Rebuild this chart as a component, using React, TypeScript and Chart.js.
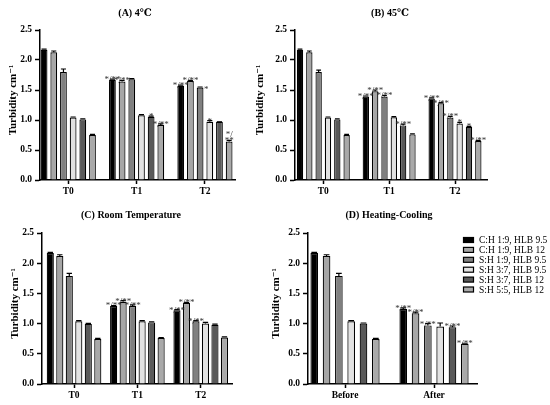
import React, { useEffect, useRef } from "react";
import { Chart, registerables } from "chart.js";

Chart.register(...registerables);

// ---------- data ----------
const seriesLabels = [
  "C:H 1:9, HLB 9.5",
  "C:H 1:9, HLB 12",
  "S:H 1:9, HLB 9.5",
  "S:H 3:7, HLB 9.5",
  "S:H 3:7, HLB 12",
  "S:H 5:5, HLB 12",
];
const seriesColors = ["#000000", "#a6a6a6", "#808080", "#e2e2e2", "#595959", "#a9a9a9"];

const timeCategories = ["T0", "T1", "T2"];
const hcCategories = ["Before", "After"];
const yAxisTitle = "Turbidity cm⁻¹";

// values[series][category]
const valuesA = [
  [2.17, 1.67, 1.57],
  [2.13, 1.64, 1.65],
  [1.8, 1.68, 1.54],
  [1.04, 1.08, 0.97],
  [1.01, 1.055, 0.97],
  [0.75, 0.915, 0.64],
];
const errorsA = [
  [0.01, 0.01, 0.01],
  [0.02, 0.02, 0.01],
  [0.05, 0.01, 0.01],
  [0.01, 0.01, 0.02],
  [0.01, 0.01, 0.0],
  [0.01, 0.02, 0.02],
];
const notesA = [
  ["", "*/**", "*/**"],
  ["", "*/**", "*/**"],
  ["", "", ">*"],
  ["", "", "*"],
  ["", "*", ""],
  ["", "*/**", "*/\n**"],
];

const valuesB = [
  [2.17, 1.39, 1.36],
  [2.13, 1.48, 1.28],
  [1.8, 1.39, 1.04],
  [1.04, 1.045, 0.94],
  [1.01, 0.91, 0.885],
  [0.75, 0.76, 0.65],
];
const errorsB = [
  [0.01, 0.01, 0.01],
  [0.02, 0.02, 0.01],
  [0.03, 0.02, 0.02],
  [0.01, 0.01, 0.02],
  [0.01, 0.02, 0.01],
  [0.01, 0.01, 0.01],
];
const notesB = [
  ["", "*/**", "*/**"],
  ["", "*/**", "*/**"],
  ["", "*/**", "*/**"],
  ["", "", "*"],
  ["", "*/**", "*"],
  ["", "", "*/**"],
];

const valuesC = [
  [2.17, 1.29, 1.22],
  [2.12, 1.36, 1.34],
  [1.79, 1.29, 1.04],
  [1.04, 1.04, 1.0],
  [0.995, 1.02, 0.98],
  [0.745, 0.76, 0.77],
];
const errorsC = [
  [0.01, 0.01, 0.01],
  [0.02, 0.02, 0.01],
  [0.04, 0.02, 0.01],
  [0.01, 0.01, 0.02],
  [0.01, 0.01, 0.01],
  [0.01, 0.01, 0.01],
];
const notesC = [
  ["", "*/**", "*/**"],
  ["", "*/**", "*/**"],
  ["", "*/**", "*/**"],
  ["", "", ""],
  ["", "", ""],
  ["", "", ""],
];

const valuesD = [
  [2.17, 1.24],
  [2.12, 1.17],
  [1.79, 0.97],
  [1.04, 0.95],
  [1.0, 0.94],
  [0.745, 0.665],
];
const errorsD = [
  [0.01, 0.02],
  [0.02, 0.02],
  [0.04, 0.03],
  [0.01, 0.06],
  [0.01, 0.02],
  [0.01, 0.01],
];
const notesD = [
  ["", "*/**"],
  ["", "*/**"],
  ["", "*/**"],
  ["", ""],
  ["", "*/**"],
  ["", "*/**"],
];

// ---------- layout ----------
type Panel = {
  title: string;
  categories: string[];
  values: number[][];
  errors: number[][];
  notes: string[][];
  box: { x: number; y: number; w: number; h: number };
  area: { left: number; right: number; top: number; bottom: number };
  xMin: number;
  xMax: number;
  catPct: number;
  barPct: number;
  titleX: number;
  titleY: number;
  yTitleX: number;
  legend?: { x: number; y: number };
};

const panels: Panel[] = [
  {
    title: "(A) 4℃",
    categories: timeCategories,
    values: valuesA,
    errors: errorsA,
    notes: notesA,
    box: { x: 0, y: 0, w: 275, h: 200 },
    area: { left: 40, right: 235, top: 30, bottom: 180 },
    xMin: -0.414,
    xMax: 2.44,
    catPct: 0.85,
    barPct: 0.7,
    titleX: 135,
    titleY: 13,
    yTitleX: 13,
  },
  {
    title: "(B) 45℃",
    categories: timeCategories,
    values: valuesB,
    errors: errorsB,
    notes: notesB,
    box: { x: 245, y: 0, w: 305, h: 200 },
    area: { left: 50, right: 242, top: 30, bottom: 180 },
    xMin: -0.43,
    xMax: 2.486,
    catPct: 0.85,
    barPct: 0.68,
    titleX: 145,
    titleY: 13,
    yTitleX: 15,
  },
  {
    title: "(C) Room Temperature",
    categories: timeCategories,
    values: valuesC,
    errors: errorsC,
    notes: notesC,
    box: { x: 0, y: 200, w: 275, h: 205 },
    area: { left: 42, right: 232, top: 33, bottom: 184 },
    xMin: -0.506,
    xMax: 2.494,
    catPct: 0.9,
    barPct: 0.75,
    titleX: 131,
    titleY: 15,
    yTitleX: 15,
  },
  {
    title: "(D) Heating-Cooling",
    categories: hcCategories,
    values: valuesD,
    errors: errorsD,
    notes: notesD,
    box: { x: 250, y: 200, w: 300, h: 205 },
    area: { left: 58, right: 227, top: 33, bottom: 184 },
    xMin: -0.416,
    xMax: 1.483,
    catPct: 0.83,
    barPct: 0.62,
    titleX: 139,
    titleY: 15,
    yTitleX: 26,
    legend: { x: 213, y: 40 },
  },
];

const FONT = "'Liberation Serif', 'DejaVu Serif', serif";

function makeOverlay(p: Panel) {
  return {
    id: "overlay",
    afterDatasetsDraw(chart: any) {
      const ctx = chart.ctx as CanvasRenderingContext2D;
      const ys = chart.scales.y;
      ctx.save();
      chart.data.datasets.forEach((_ds: any, di: number) => {
        const meta = chart.getDatasetMeta(di);
        meta.data.forEach((el: any, ci: number) => {
          const v = p.values[di][ci];
          const e = p.errors[di][ci];
          const base = ys.getPixelForValue(v);
          const top = ys.getPixelForValue(v + e);
          const cap = el.width * 0.75;
          ctx.strokeStyle = "#000";
          ctx.lineWidth = 1.2;
          ctx.beginPath();
          ctx.moveTo(el.x, base);
          ctx.lineTo(el.x, top);
          ctx.moveTo(el.x - cap / 2, top);
          ctx.lineTo(el.x + cap / 2, top);
          ctx.stroke();
          const note = p.notes[di][ci];
          if (note) {
            ctx.fillStyle = "#333";
            ctx.font = `9px ${FONT}`;
            ctx.textBaseline = "alphabetic";
            if (note.startsWith(">")) {
              ctx.textAlign = "left";
              ctx.fillText(note.slice(1), el.x + el.width / 2 + 0.5, top + 4.5);
            } else {
              ctx.textAlign = "center";
              const lines = note.split("\n");
              const n = lines.length;
              lines.forEach((ln, k) => {
                ctx.fillText(ln, el.x, top + 3 - (n - 1 - k) * 6.5);
              });
            }
          }
        });
      });
      ctx.restore();
    },
    afterDraw(chart: any) {
      const ctx = chart.ctx as CanvasRenderingContext2D;
      const ca = chart.chartArea;
      ctx.save();
      ctx.fillStyle = "#000";
      ctx.font = `bold 10px ${FONT}`;
      ctx.textAlign = "center";
      ctx.textBaseline = "middle";
      ctx.fillText(p.title, p.titleX, p.titleY);

      ctx.save();
      ctx.translate(p.yTitleX, (ca.top + ca.bottom) / 2 - 5);
      ctx.rotate(-Math.PI / 2);
      ctx.font = `bold 11px ${FONT}`;
      ctx.fillText(yAxisTitle, 0, 0);
      ctx.restore();

      if (p.legend) {
        const { x, y } = p.legend;
        ctx.font = `9.5px ${FONT}`;
        ctx.textAlign = "left";
        ctx.textBaseline = "middle";
        seriesLabels.forEach((lab, i) => {
          const cy = y + i * 9.9;
          ctx.fillStyle = seriesColors[i];
          ctx.fillRect(x, cy - 2.5, 11, 5);
          ctx.strokeStyle = "#000";
          ctx.lineWidth = 1.2;
          ctx.strokeRect(x + 0.5, cy - 2.5, 10, 5);
          ctx.fillStyle = "#000";
          ctx.fillText(lab, x + 16, cy + 0.5);
        });
      }
      ctx.restore();
    },
  };
}

function PanelChart({ p }: { p: Panel }) {
  const ref = useRef<HTMLCanvasElement | null>(null);
  useEffect(() => {
    if (!ref.current) return;
    const cats = p.categories;
    const chart = new Chart(ref.current, {
      type: "bar",
      data: {
        datasets: seriesLabels.map((lab, si) => ({
          label: lab,
          data: p.values[si].map((v, ci) => ({ x: ci, y: v })),
          backgroundColor: seriesColors[si],
          borderColor: "#000",
          borderWidth: 1.2,
          borderSkipped: "start",
          categoryPercentage: p.catPct,
          barPercentage: p.barPct,
        })),
      },
      options: {
        responsive: false,
        animation: false,
        events: [],
        layout: {
          padding: {
            left: 0,
            top: p.area.top,
            right: p.box.w - p.area.right,
            bottom: 0,
          },
        },
        plugins: {
          legend: { display: false },
          tooltip: { enabled: false },
          title: { display: false },
        },
        scales: {
          x: {
            type: "linear",
            offset: false,
            min: p.xMin,
            max: p.xMax,
            afterBuildTicks: (s: any) => {
              s.ticks = cats.map((_c, i) => ({ value: i }));
            },
            afterFit: (s: any) => {
              s.height = p.box.h - p.area.bottom;
            },
            grid: {
              offset: false,
              drawOnChartArea: false,
              drawTicks: true,
              tickLength: 4,
              tickColor: "#000",
              tickWidth: 1.5,
            },
            border: { display: true, color: "#000", width: 1.5 },
            ticks: {
              autoSkip: false,
              maxRotation: 0,
              padding: 2,
              color: "#000",
              font: { family: FONT, size: 9.5, weight: "bold" },
              callback: (v: any) => cats[Math.round(Number(v))] ?? "",
            },
          },
          y: {
            type: "linear",
            min: 0,
            max: 2.5,
            afterFit: (s: any) => {
              s.width = p.area.left;
            },
            grid: {
              drawOnChartArea: false,
              drawTicks: true,
              tickLength: 5,
              tickColor: "#000",
              tickWidth: 1.5,
            },
            border: { display: true, color: "#000", width: 1.5 },
            ticks: {
              stepSize: 0.5,
              padding: 3,
              color: "#000",
              font: { family: FONT, size: 9.5, weight: "bold" },
              callback: (v: any) => Number(v).toFixed(1),
            },
          },
        },
      } as any,
      plugins: [makeOverlay(p)],
    });
    return () => chart.destroy();
  }, [p]);
  return (
    <canvas
      ref={ref}
      width={p.box.w}
      height={p.box.h}
      style={{
        position: "absolute",
        left: p.box.x,
        top: p.box.y,
        width: p.box.w,
        height: p.box.h,
      }}
    />
  );
}

export default function App() {
  return (
    <div
      style={{
        position: "absolute",
        left: 0,
        top: 0,
        width: 550,
        height: 405,
        background: "#fff",
        overflow: "hidden",
      }}
    >
      {panels.map((p, i) => (
        <PanelChart key={i} p={p} />
      ))}
    </div>
  );
}
